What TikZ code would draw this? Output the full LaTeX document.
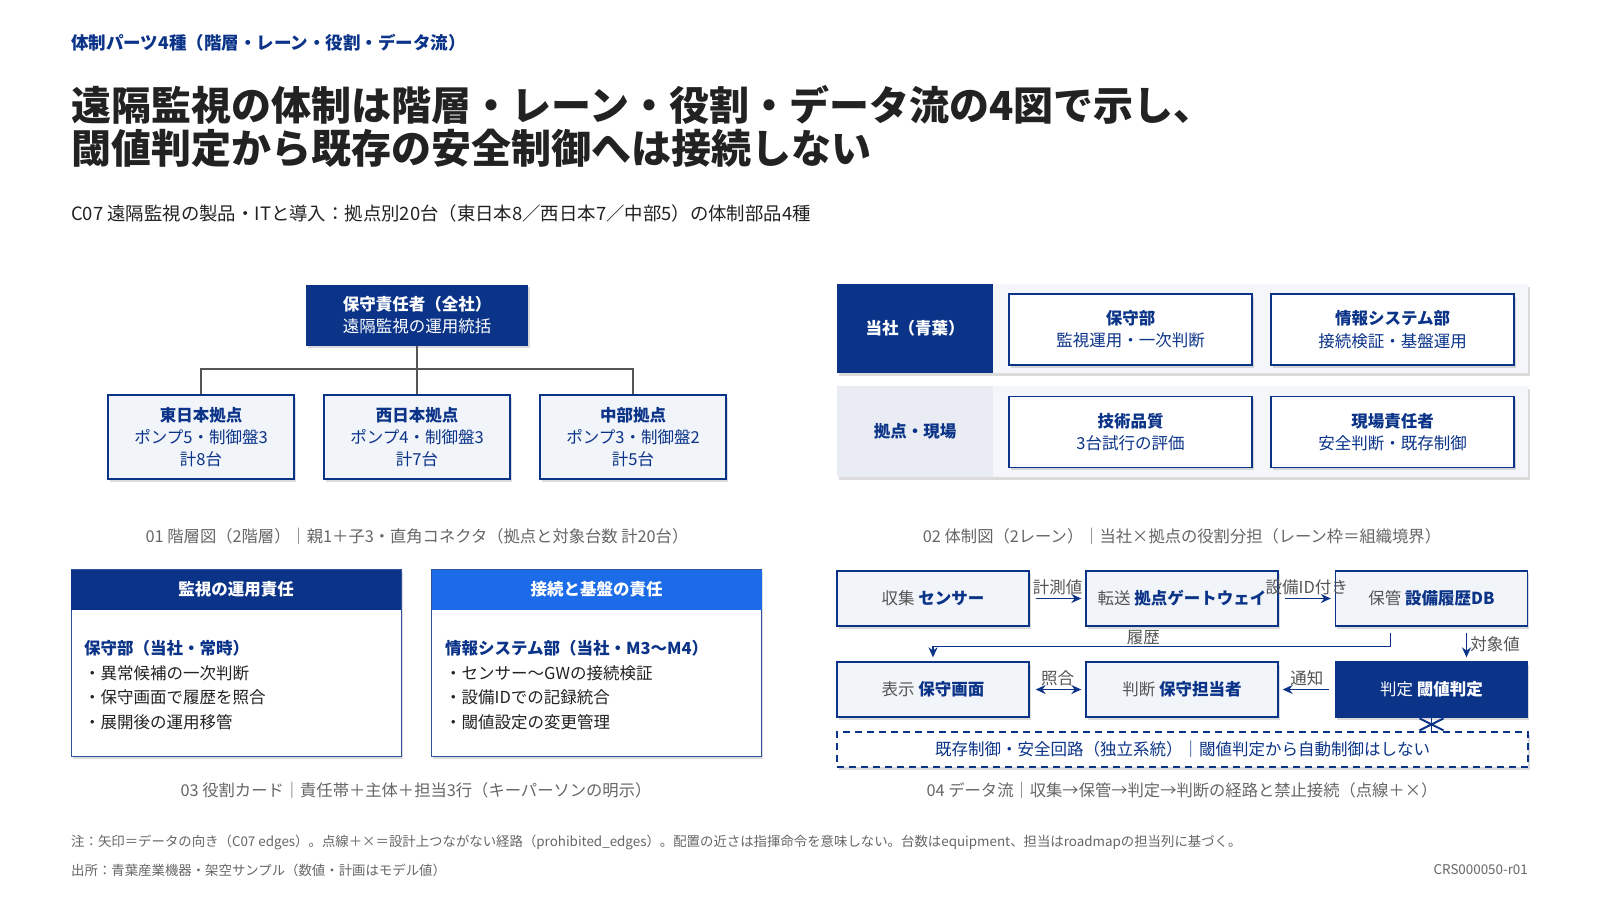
\documentclass[tikz,border=0pt]{standalone}
\usepackage{fontspec}
\setmainfont{Noto Sans CJK JP}
\usetikzlibrary{arrows.meta,positioning,shadows,calc}

\definecolor{navy}{HTML}{0B3488}
\definecolor{brightblue}{HTML}{1C6BE8}
\definecolor{boxfill}{HTML}{F1F4F9}
\definecolor{lanefill}{HTML}{F4F6F9}
\definecolor{laneside}{HTML}{E9EDF3}
\definecolor{inkdark}{HTML}{222222}
\definecolor{inkgray}{HTML}{555555}
\definecolor{capgray}{HTML}{666666}

\newcommand\szkick{\fontsize{17.5}{21}\selectfont}
\newcommand\sztitle{\fontsize{40}{43}\selectfont}
\newcommand\szsub{\fontsize{18.4}{22}\selectfont}
\newcommand\szbox{\fontsize{16.5}{22.3}\selectfont}
\newcommand\szcap{\fontsize{16.3}{20}\selectfont}
\newcommand\sznote{\fontsize{13.4}{16}\selectfont}

\tikzset{
  softshadow/.style={drop shadow={shadow xshift=1.5pt, shadow yshift=-2.5pt, opacity=0.2, fill=black!70}},
  plaintext/.style={inner sep=0pt, anchor=west},
  kicker/.style={plaintext, font=\szkick\bfseries, text=navy},
  titletext/.style={plaintext, font=\sztitle\bfseries, text=inkdark, align=left},
  subtext/.style={plaintext, font=\szsub, text=inkdark},
  captext/.style={inner sep=0pt, font=\szcap, text=capgray},
  notetext/.style={plaintext, font=\sznote, text=capgray},
  % 01 hierarchy
  chiefbox/.style={fill=navy, text=white, font=\szbox, align=center, minimum width=222pt, minimum height=61pt, inner sep=0pt, softshadow},
  sitebox/.style={fill=boxfill, draw=navy, line width=1.3pt, text=navy, font=\szbox, align=center, minimum width=186pt, minimum height=84pt, inner sep=0pt, softshadow},
  orgline/.style={draw=inkgray, line width=1.2pt},
  % 02 lanes
  lane/.style={fill=lanefill, minimum width=691pt, inner sep=0pt, softshadow},
  lanehead/.style={minimum width=156pt, inner sep=0pt, font=\szbox\bfseries},
  rolebox/.style={fill=white, draw=navy, line width=1.3pt, text=navy, font=\szbox, align=center, minimum width=243pt, minimum height=71pt, inner sep=0pt, softshadow},
  % 03 cards
  card/.style={fill=white, draw=navy!85, line width=1pt, minimum width=330pt, minimum height=187pt, inner sep=0pt, softshadow},
  cardhead/.style={text=white, font=\szbox\bfseries, minimum width=330pt, minimum height=40pt, inner sep=0pt},
  cardbody/.style={plaintext, font=\fontsize{16.5}{24.7}\selectfont, text=inkdark, align=left},
  % 04 data flow
  flowbox/.style={fill=boxfill, draw=navy, line width=1.3pt, text=navy, font=\szbox, minimum width=192pt, minimum height=55pt, inner sep=0pt, softshadow},
  flowline/.style={draw=navy, line width=1.6pt, shorten <=6pt, shorten >=4pt},
  flowarrow/.style={flowline, -{Stealth[length=10pt,width=9pt]}},
  flowboth/.style={flowline, {Stealth[length=10pt,width=9pt]}-{Stealth[length=10pt,width=9pt]}},
  flowlabel/.style={font=\szbox, text=inkgray, inner sep=1pt},
  forbidbox/.style={fill=white, draw=navy, line width=1.8pt, dash pattern=on 7pt off 5pt, text=navy, font=\szbox, minimum width=691pt, minimum height=35pt, inner sep=0pt, softshadow},
}

\begin{document}
\begin{tikzpicture}[x=1pt,y=-1pt]
\useasboundingbox[fill=white] (0,0) rectangle (1600,900);

% header
\node[kicker] (kick) at (71,43) {体制パーツ4種（階層・レーン・役割・データ流）};
\node[titletext] (title) at (71,126.5) {遠隔監視の体制は階層・レーン・役割・データ流の4図で示し、\\閾値判定から既存の安全制御へは接続しない};
\node[subtext] (sub) at (71,214) {C07 遠隔監視の製品・ITと導入：拠点別20台（東日本8／西日本7／中部5）の体制部品4種};

% 01 hierarchy
\node[chiefbox] (chief) at (417,315) {{\bfseries 保守責任者（全社）}\\遠隔監視の運用統括};
\coordinate (bus) at (417,369);
\node[sitebox] (east) at (201,437) {\textbf{東日本拠点}\\ポンプ5・制御盤3\\計8台};
\node[sitebox] (west) at (417,437) {\textbf{西日本拠点}\\ポンプ4・制御盤3\\計7台};
\node[sitebox] (chubu) at (633,437) {\textbf{中部拠点}\\ポンプ3・制御盤2\\計5台};
\draw[orgline] (chief.south) -- (bus);
\draw[orgline] (east.north) |- (bus) -| (chubu.north);
\draw[orgline] (bus) -- (west.north);
\node[captext] (cap1) at (417,536) {01 階層図（2階層）｜親1＋子3・直角コネクタ（拠点と対象台数 計20台）};

% 02 lanes
\node[lane, minimum height=89pt] (lanecorp) at (1182.5,328.5) {};
\node[lane, minimum height=91pt] (lanesite) at (1182.5,431.5) {};
\node[lanehead, fill=navy, text=white, minimum height=89pt] (corphead) at (915,328.5) {当社（青葉）};
\node[lanehead, fill=laneside, text=navy, minimum height=91pt] (sitehead) at (915,431.5) {拠点・現場};
\node[rolebox] (maint) at (1130.5,329.5) {\textbf{保守部}\\監視運用・一次判断};
\node[rolebox] (infosys) at (1392.5,329.5) {\textbf{情報システム部}\\接続検証・基盤運用};
\node[rolebox] (quality) at (1130.5,432) {\textbf{技術品質}\\3台試行の評価};
\node[rolebox] (fieldlead) at (1392.5,432) {\textbf{現場責任者}\\安全判断・既存制御};
\node[captext] (cap2) at (1182,536) {02 体制図（2レーン）｜当社×拠点の役割分担（レーン枠＝組織境界）};

% 03 role cards
\node[card] (cardops) at (236,662.5) {};
\node[cardhead, fill=navy] (opshead) at (236,589.5) {監視の運用責任};
\node[cardbody] (opsbody) at (84,685) {\textcolor{navy}{\bfseries 保守部（当社・常時）}\\・異常候補の一次判断\\・保守画面で履歴を照合\\・展開後の運用移管};
\node[card] (cardinfra) at (596.5,662.5) {};
\node[cardhead, fill=brightblue] (infrahead) at (596.5,589.5) {接続と基盤の責任};
\node[cardbody] (infrabody) at (445,685) {\textcolor{navy}{\bfseries 情報システム部（当社・M3〜M4）}\\・センサー〜GWの接続検証\\・設備IDでの記録統合\\・閾値設定の変更管理};
\node[captext] (cap3) at (416,790) {03 役割カード｜責任帯＋主体＋担当3行（キーパーソンの明示）};

% 04 data flow
\node[flowbox] (sensor) at (933,598.5) {\textcolor{inkgray}{収集} \textbf{センサー}};
\node[flowbox] (gateway) at (1182,598.5) {\textcolor{inkgray}{転送} \textbf{拠点ゲートウェイ}};
\node[flowbox] (db) at (1431.5,598.5) {\textcolor{inkgray}{保管} \textbf{設備履歴DB}};
\node[flowbox] (screen) at (933,689.5) {\textcolor{inkgray}{表示} \textbf{保守画面}};
\node[flowbox] (staff) at (1182,689.5) {\textcolor{inkgray}{判断} \textbf{保守担当者}};
\node[flowbox, fill=navy, text=white] (thresh) at (1431.5,689.5) {判定 \textbf{閾値判定}};
\node[forbidbox] (safety) at (1182.5,749.5) {既存制御・安全回路（独立系統）｜閾値判定から自動制御はしない};

\draw[flowarrow] (sensor.east) -- node[flowlabel, above=2pt] {計測値} (gateway.west);
\draw[flowarrow] (gateway.east) -- node[flowlabel, above=2pt] {設備ID付き} (db.west);
\draw[flowarrow] ([xshift=-41pt]db.south) -- ++(0,20) -| node[flowlabel, pos=0.27, above=0pt] {履歴} (screen.north);
\draw[flowarrow] ([xshift=35pt]db.south) -- node[flowlabel, right=2pt] {対象値} ([xshift=35pt]thresh.north);
\draw[flowboth] (screen.east) -- node[flowlabel, above=2pt] {照合} (staff.west);
\draw[flowarrow] (thresh.west) -- node[flowlabel, above=2pt] {通知} (staff.east);

% prohibited edge
\coordinate (cut) at ($(thresh.south)!0.5!(thresh.south |- safety.north)$);
\draw[navy, line width=1.6pt] (thresh.south) -- (thresh.south |- safety.north);
\draw[navy, line width=2pt] (cut) +(-12,-6) -- +(12,6) (cut) +(-12,6) -- +(12,-6);
\node[captext] (cap4) at (1182,790) {04 データ流｜収集→保管→判定→判断の経路と禁止接続（点線＋×）};

% footer
\node[notetext] (note) at (71,842) {注：矢印＝データの向き（C07 edges）。点線＋×＝設計上つながない経路（prohibited\_edges）。配置の近さは指揮命令を意味しない。台数はequipment、担当はroadmapの担当列に基づく。};
\node[notetext] (source) at (71,870) {出所：青葉産業機器・架空サンプル（数値・計画はモデル値）};
\node[notetext, anchor=east] (docid) at (1528,870) {CRS000050-r01};
\end{tikzpicture}
\end{document}
